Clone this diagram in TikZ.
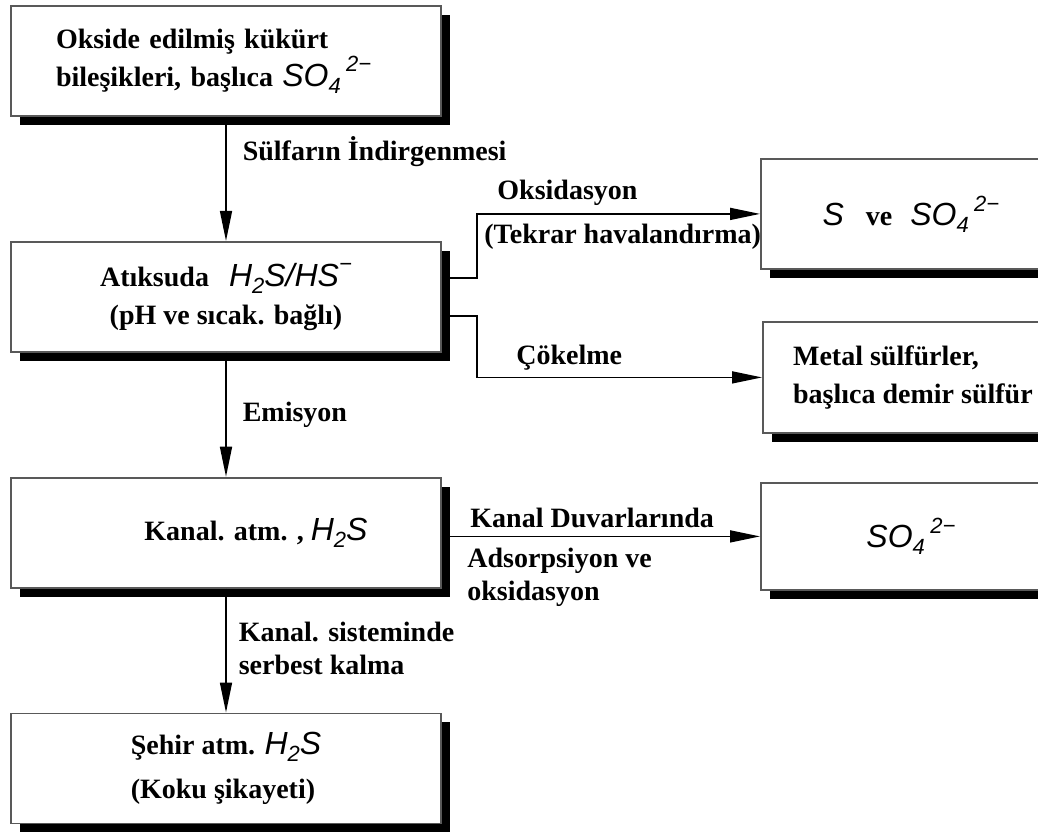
\documentclass[tikz,border=0pt]{standalone}
\usepackage{fontspec}
\setmainfont{Liberation Serif}
\setsansfont{Liberation Sans}
\usetikzlibrary{arrows.meta,positioning,shadows,calc}

% formula text: sans italic, with small raised/lowered indices
\newcommand\chem[1]{{\fontsize{16}{19}\selectfont\sffamily\mdseries\itshape #1}}
\newcommand\chsub[1]{\raisebox{-0.4ex}{\fontsize{11}{11}\selectfont #1}}
\newcommand\chsup[1]{\raisebox{0.85ex}{\fontsize{11}{11}\selectfont #1}}

\begin{document}
\begin{tikzpicture}
[x=0.5pt, y=-0.5pt,
node distance=62pt,
box/.style={rectangle,draw=black!65,line width=0.9pt,fill=white,
  minimum width=215pt,minimum height=55pt,inner sep=0pt,
  font=\bfseries\fontsize{14}{19}\selectfont,
  drop shadow={shadow xshift=4.5pt,shadow yshift=-4.5pt,opacity=1,fill=black}},
sidebox/.style={box,minimum width=150pt,anchor=north west},
flow/.style={-{Triangle[length=15pt,width=6pt]},line width=0.8pt},
lbl/.style={font=\bfseries\fontsize{14}{16.5}\selectfont,inner sep=0pt,align=left}]
\useasboundingbox (0,0) rectangle (1038,832);
\clip (0,0) rectangle (1038,832);
\fill[white] (0,0) rectangle (1038,832);

% left column
\node[box,align=left,text width=170pt,inner xsep=22.5pt] (oxidised) at (226,61)
  {Okside edilmiş kükürt\\bileşikleri, başlıca \chem{SO\chsub{4}\,\chsup{2−}}};
\node[box,align=center] (wastewater) [below=of oxidised]
  {Atıksuda\hspace{10pt}\chem{H\chsub{2}S/HS\chsup{−}}\\(pH ve sıcak. bağlı)};
\node[box] (sewerair) [below=of wastewater]
  {\hspace{30pt}Kanal. atm. , \chem{H\chsub{2}S}};
\node[box,align=left] (cityair) [below=of sewerair]
  {Şehir atm. \chem{H\chsub{2}S}\\[3pt](Koku şikayeti)};

% right column
\node[sidebox,minimum height=55pt] (sulfur) at (760,158)
  {\chem{S}\hspace{11pt}ve\hspace{9pt}\chem{SO\chsub{4}\,\chsup{2−}}};
\node[sidebox,minimum height=55.5pt,align=left] (metal) at (762,321)
  {Metal sülfürler,\\başlıca demir sülfür};
\node[sidebox,minimum height=53.5pt] (sulfate) at (760,482)
  {\chem{SO\chsub{4}\,\chsup{2−}}};

% vertical flow
\draw[flow] (oxidised) -- node[lbl,pos=0.28,right=8pt] (reduction) {Sülfarın İndirgenmesi} (wastewater);
\draw[flow] (wastewater) -- node[lbl,pos=0.5,right=8pt] (emission) {Emisyon} (sewerair);
\draw[flow] (sewerair) -- node[lbl,pos=0.48,right=6pt] (release) {Kanal. sisteminde\\serbest kalma} (cityair);

% side branches
\draw[flow] ($(wastewater.east)+(0,-19)$) -- ++(35,0) |- (sulfur.west);
\draw[flow] ($(wastewater.east)+(0,19)$) -- ++(35,0) |- (metal.west);
\draw[flow] (sewerair.east |- sulfate.west) -- (sulfate.west);

\node[lbl,anchor=west] (oxidation) at (497,193) {Oksidasyon};
\node[lbl,anchor=west] (aeration) at (484,237) {(Tekrar havalandırma)};
\node[lbl,anchor=west] (precip) at (516,358) {Çökelme};
\node[lbl,anchor=west] (walls) at (470,518) {Kanal Duvarlarında};
\node[lbl,anchor=north west] (adsorb) at (467,548) {Adsorpsiyon ve\\oksidasyon};
\end{tikzpicture}
\end{document}
